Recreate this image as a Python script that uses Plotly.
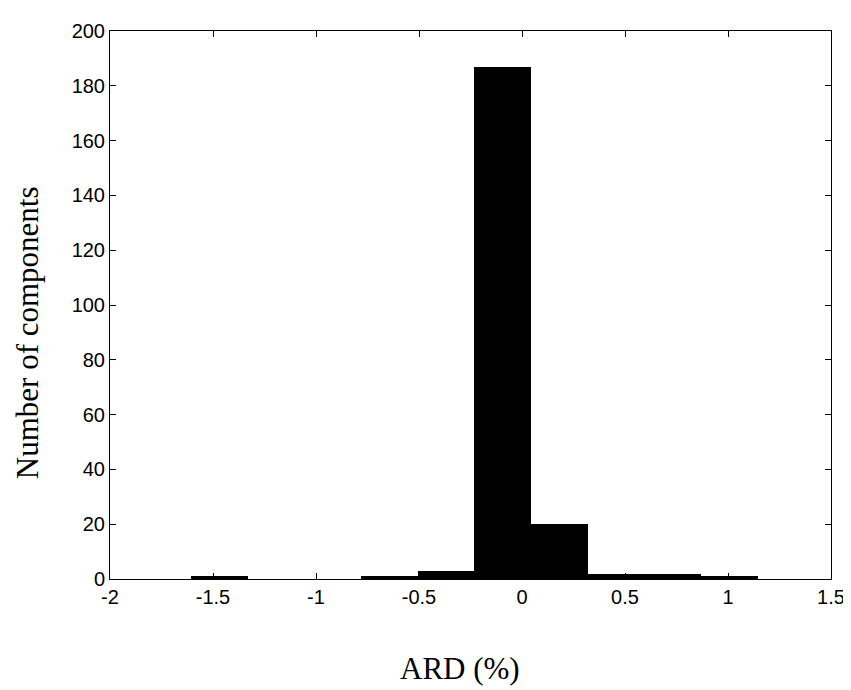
import plotly.graph_objects as go

# Histogram data (10 bins, MATLAB-style hist)
bin_centers = [-1.469, -1.194, -0.919, -0.644, -0.369, -0.094, 0.181, 0.457, 0.732, 1.007]
counts = [1, 0, 0, 1, 3, 187, 20, 2, 2, 1]
bin_width = 0.2752

x_ticks = [-2, -1.5, -1, -0.5, 0, 0.5, 1, 1.5]
x_tick_labels = ["-2", "-1.5", "-1", "-0.5", "0", "0.5", "1", "1.5"]
y_ticks = [0, 20, 40, 60, 80, 100, 120, 140, 160, 180, 200]

fig = go.Figure()
fig.add_trace(go.Bar(
    x=bin_centers, y=counts, width=[bin_width] * len(counts),
    marker=dict(color="black", line=dict(width=0)),
    showlegend=False,
))

axis_common = dict(
    showgrid=False, zeroline=False, showline=True, linecolor="black", linewidth=1,
    mirror="ticks", ticks="inside", ticklen=6, tickwidth=1, tickcolor="black",
    tickfont=dict(family="Liberation Sans, Arial, sans-serif", size=20, color="black"),
)

fig.update_layout(
    width=851, height=690,
    margin=dict(l=102, r=28, t=14, b=119),
    paper_bgcolor="white", plot_bgcolor="white",
    bargap=0,
    xaxis=dict(range=[-2, 1.5], tickvals=x_ticks, ticktext=x_tick_labels, **axis_common),
    yaxis=dict(range=[0, 200], tickvals=y_ticks, **axis_common),
    annotations=[
        dict(text="ARD (%)", xref="paper", yref="paper", x=0.485, y=-0.163,
             showarrow=False, xanchor="center", yanchor="middle",
             font=dict(family="Liberation Serif, Times New Roman, serif", size=31, color="black")),
        dict(text="Number of components", xref="paper", yref="paper", x=-0.114, y=0.45,
             showarrow=False, xanchor="center", yanchor="middle", textangle=-90,
             font=dict(family="Liberation Serif, Times New Roman, serif", size=31, color="black")),
    ],
)

fig.write_html("out.html")
